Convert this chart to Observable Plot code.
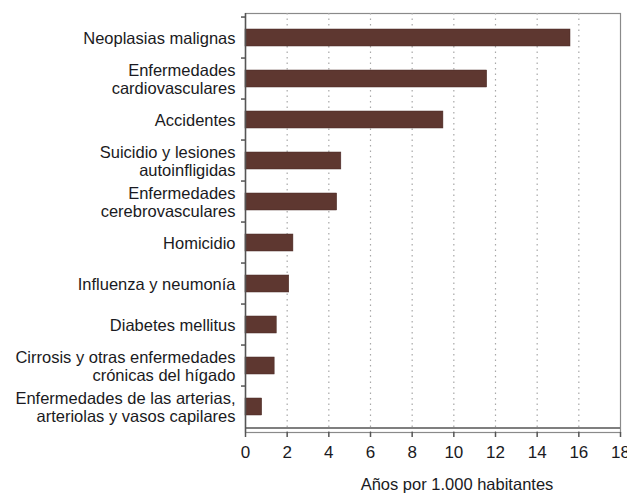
<!DOCTYPE html>
<html>
<head>
<meta charset="utf-8">
<script src="https://cdn.jsdelivr.net/npm/d3@7"></script>
<script src="https://cdn.jsdelivr.net/npm/@observablehq/plot@0.6"></script>
<style>
  html, body { margin: 0; padding: 0; background: #fff; }
  #chart svg { display: block; }
</style>
</head>
<body>
<div id="chart"></div>
<script>
const categories = [
  "Neoplasias malignas",
  "Enfermedades\ncardiovasculares",
  "Accidentes",
  "Suicidio y lesiones\nautoinfligidas",
  "Enfermedades\ncerebrovasculares",
  "Homicidio",
  "Influenza y neumonía",
  "Diabetes mellitus",
  "Cirrosis y otras enfermedades\ncrónicas del hígado",
  "Enfermedades de las arterias,\narteriolas y vasos capilares"
];
const values = [15.6, 11.6, 9.5, 4.6, 4.4, 2.3, 2.1, 1.5, 1.4, 0.8];
const xTicks = [0, 2, 4, 6, 8, 10, 12, 14, 16, 18];
const gridTicks = [2, 4, 6, 8, 10, 12, 14, 16];
const xLabel = "Años por 1.000 habitantes";

const data = categories.map((c, i) => ({cat: c, value: values[i]}));

const W = 627, H = 495, mT = 13, mB = 63, mL = 245, mR = 7;
const padIn = 0.58, padOut = 0.29;
const step = (H - mT - mB) / (categories.length - padIn + 2 * padOut);
const font = "'Liberation Sans', Arial, sans-serif";

const chart = Plot.plot({
  width: W,
  height: H,
  marginTop: mT,
  marginBottom: mB,
  marginLeft: mL,
  marginRight: mR,
  style: {fontFamily: font, fontSize: "16px", color: "#1a1a22", background: "#fff"},
  x: {domain: [0, 18]},
  y: {domain: categories, paddingInner: padIn, paddingOuter: padOut},
  marks: [
    Plot.frame({stroke: "#8a8a8a", strokeWidth: 1.2}),
    Plot.ruleX(gridTicks, {stroke: "#a8a8a8", strokeDasharray: "1.5,4", strokeWidth: 1.2}),
    Plot.barX(data, {y: "cat", x: "value", fill: "#5e3730", stroke: "#4a2a25", strokeWidth: 0.5}),
    Plot.ruleX([0], {stroke: "#555", strokeWidth: 1.5}),
    Plot.ruleY([categories[categories.length - 1]], {dy: step / 2, stroke: "#555", strokeWidth: 1.5}),
    Plot.axisX({ticks: xTicks, tickSize: 5, tickPadding: 8, stroke: "#555", strokeWidth: 1.5, fontSize: 17, label: null}),
    Plot.axisY({tickSize: 4, text: null, dy: -step / 2, stroke: "#555", strokeWidth: 1.5, label: null}),
    Plot.axisY({tickSize: 0, tickPadding: 10, fontSize: 16.5, lineHeight: 1.12, label: null}),
    Plot.text([xLabel], {frameAnchor: "bottom", dy: 57, dx: 24, fontSize: 16.5, fill: "#1a1a22"})
  ]
});
document.getElementById("chart").appendChild(chart);
</script>
</body>
</html>
